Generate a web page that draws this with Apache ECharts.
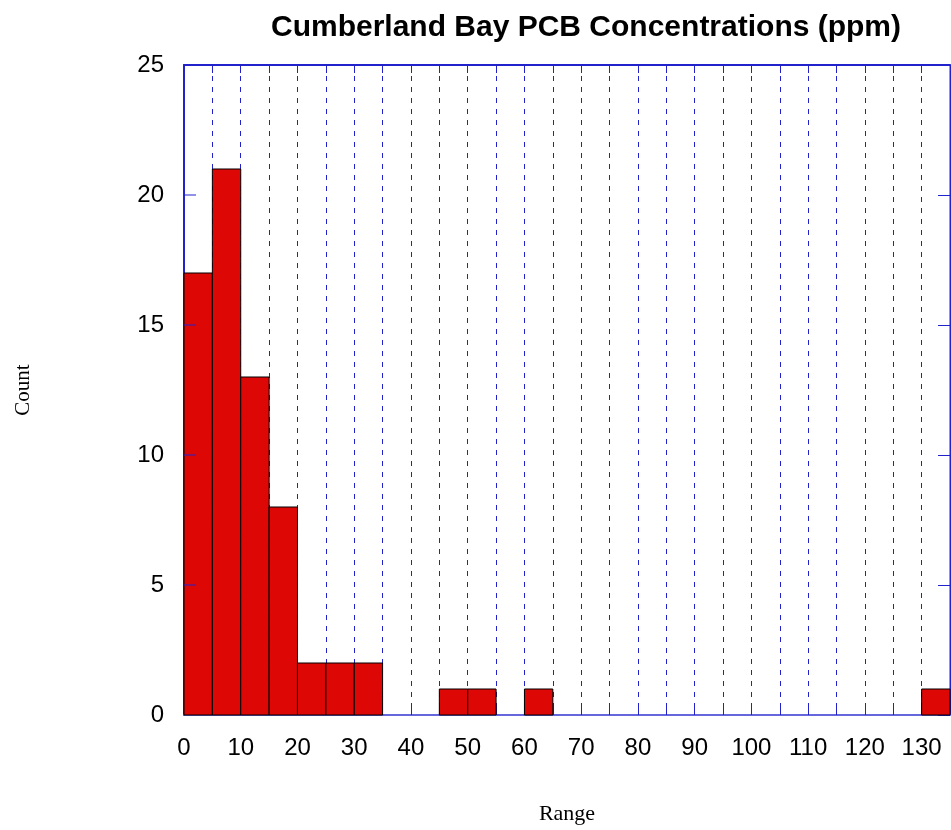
<!DOCTYPE html>
<html><head><meta charset="utf-8">
<script src="https://cdn.jsdelivr.net/npm/echarts@6/dist/echarts.min.js"></script>
<style>html,body{margin:0;padding:0;background:#fff}#c{width:951px;height:830px}</style>
</head><body><div id="c"></div>
<script>
const binStarts = [0, 5, 10, 15, 20, 25, 30, 45, 50, 60, 130];
const binWidth = 5;
const counts = [17, 21, 13, 8, 2, 2, 2, 1, 1, 1, 1];
const xTicks = [0,10,20,30,40,50,60,70,80,90,100,110,120,130];
const yTicks = [0,5,10,15,20,25];

const chart = echarts.init(document.getElementById('c'));
const data = binStarts.map((s,i)=>[s, s+binWidth, counts[i]]);
const blue = '#2222cc';
const lightBlue = '#6666dd';
chart.setOption({
  animation:false,
  title:{text:'Cumberland Bay PCB Concentrations (ppm)', left:581, top:8, textAlign:'center',
    textStyle:{fontFamily:'Liberation Sans', fontSize:30, fontWeight:'bold', color:'#000'}},
  grid:{left:184, right:1, top:65, bottom:115, show:true, borderColor:blue, borderWidth:1,
    containLabel:false, outerBoundsMode:'none'},
  xAxis:[{type:'value', min:0, max:135, interval:5,
    name:'Range', nameLocation:'middle', nameGap:88,
    nameTextStyle:{fontFamily:'Liberation Serif', fontSize:22, color:'#000'},
    axisLine:{onZero:false, lineStyle:{color:lightBlue, width:2}},
    axisTick:{show:true, inside:true, length:8, lineStyle:{color:blue}},
    axisLabel:{fontFamily:'Liberation Sans', fontSize:24, color:'#000', margin:21, showMaxLabel:false,
      formatter:v=> xTicks.indexOf(v)>=0 ? String(v) : ''},
    splitLine:{show:true, lineStyle:{color:blue, type:[5,6], width:1}}},
   {type:'value', min:0, max:135, interval:5, position:'top',
    axisLine:{show:true, onZero:false, lineStyle:{color:blue, width:2}},
    axisTick:{show:true, inside:true, length:8, lineStyle:{color:blue}},
    axisLabel:{show:false}, splitLine:{show:false}}],
  yAxis:[{type:'value', min:0, max:25, interval:5, position:'left',
    name:'Count', nameLocation:'middle', nameGap:150, nameRotate:90,
    nameTextStyle:{fontFamily:'Liberation Serif', fontSize:21, color:'#000'},
    axisLine:{show:true, onZero:false, lineStyle:{color:blue, width:2}},
    axisTick:{show:false},
    axisLabel:{fontFamily:'Liberation Sans', fontSize:24, color:'#000', margin:20,
      formatter:v=> yTicks.indexOf(v)>=0 ? String(v) : ''},
    splitLine:{show:false}},
   {type:'value', min:0, max:25, interval:5, position:'right',
    axisLine:{show:true, onZero:false, lineStyle:{color:blue}},
    axisTick:{show:true, inside:true, length:12, lineStyle:{color:blue}},
    axisLabel:{show:false}, splitLine:{show:false}}],
  series:[{type:'custom', data:data, encode:{x:[0,1], y:2}, z:1,
    renderItem:(params, api)=>{
      const p0 = api.coord([api.value(0), api.value(2)]);
      const p1 = api.coord([api.value(1), 0]);
      return {type:'rect', shape:{x:p0[0], y:p0[1], width:p1[0]-p0[0], height:p1[1]-p0[1]},
        style:{fill:'#dd0806', stroke:'#000', lineWidth:1}};
    }},
   {type:'custom', data:yTicks.slice(1,-1).map(v=>[0,v]), z:5, silent:true,
    renderItem:(params, api)=>{
      const p = api.coord([api.value(0), api.value(1)]);
      return {type:'line', shape:{x1:p[0], y1:p[1], x2:p[0]+12, y2:p[1]},
        style:{stroke:blue, lineWidth:1}};
    }}]
});
</script></body></html>
